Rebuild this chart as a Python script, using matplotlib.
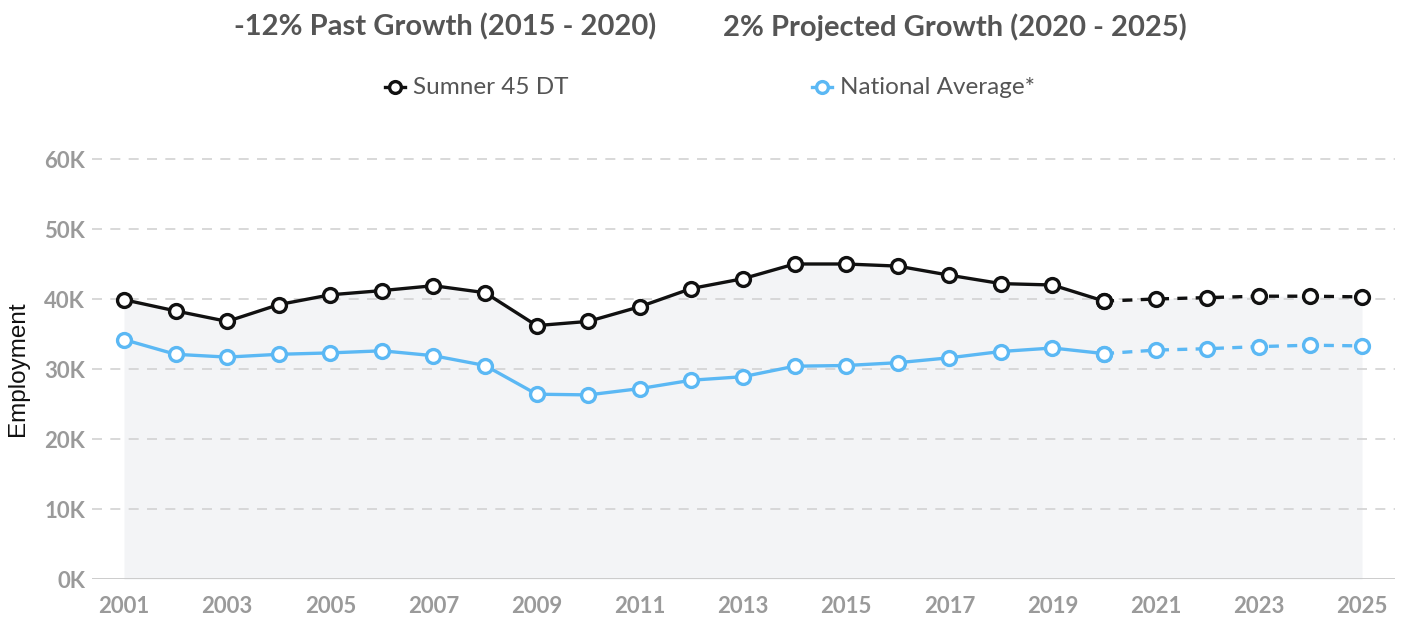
import numpy as np
import matplotlib.pyplot as plt

# Data
years_hist = [2001, 2002, 2003, 2004, 2005, 2006, 2007, 2008, 2009, 2010,
              2011, 2012, 2013, 2014, 2015, 2016, 2017, 2018, 2019, 2020]
years_proj = [2020, 2021, 2022, 2023, 2024, 2025]

sumner_hist = [39900, 38300, 36800, 39200, 40600, 41200, 41900, 40900, 36200, 36800,
               38900, 41500, 42900, 45000, 45000, 44700, 43400, 42200, 42000, 39700]
sumner_proj = [39700, 40000, 40200, 40400, 40400, 40300]

national_hist = [34200, 32100, 31700, 32100, 32300, 32600, 31900, 30500, 26400, 26300,
                 27200, 28400, 28900, 30400, 30500, 30900, 31600, 32500, 33000, 32200]
national_proj = [32200, 32700, 32900, 33200, 33400, 33300]

y_ticks = [0, 10000, 20000, 30000, 40000, 50000, 60000]
y_tick_labels = ['0K', '10K', '20K', '30K', '40K', '50K', '60K']
x_ticks = list(range(2001, 2026, 2))

black = '#111111'
blue = '#5bb8f4'
grid_col = '#d2d2d2'
tick_col = '#9a9a9a'
text_col = '#555555'

W, H = 1403, 622
fig = plt.figure(figsize=(W / 100, H / 100), dpi=100)

# axes placed in pixel terms: x from 92 to 1395, y 0K at 579, 60K at 159
left, right = 92, 1395
y0, y60 = 579, 159
ax = fig.add_axes([left / W, (H - y0) / H, (right - left) / W, (y0 - y60) / H])

px_per_year = (1362 - 124) / 24
ax.set_xlim(2001 - (124 - left) / px_per_year, 2025 + (right - 1362) / px_per_year)
ax.set_ylim(0, 60000)

for s in ax.spines.values():
    s.set_visible(False)

# gridlines
for t in y_ticks[1:]:
    ax.axhline(t, color=grid_col, lw=1.2, ls=(0, (6, 5)), zorder=1, clip_on=False)
ax.axhline(0, color='#c8c8c8', lw=1.3, zorder=1)

# grey area under the Sumner line
all_years = years_hist + years_proj[1:]
all_sumner = sumner_hist + sumner_proj[1:]
ax.fill_between(all_years, 0, all_sumner, color='#f3f4f6', zorder=0, lw=0)

mk = dict(marker='o', markersize=10, markerfacecolor='white', markeredgewidth=2.4)
ax.plot(years_hist, sumner_hist, color=black, lw=2.4, markeredgecolor=black, zorder=4, **mk)
ax.plot(years_proj, sumner_proj, color=black, lw=2.4, ls=(0, (3, 2.5)),
        markeredgecolor=black, zorder=4, **mk)
ax.plot(years_hist, national_hist, color=blue, lw=2.4, markeredgecolor=blue, zorder=3, **mk)
ax.plot(years_proj, national_proj, color=blue, lw=2.4, ls=(0, (3, 2.5)),
        markeredgecolor=blue, zorder=3, **mk)

ax.set_yticks(y_ticks)
ax.set_yticklabels(y_tick_labels)
ax.set_xticks(x_ticks)
ax.tick_params(axis='both', length=0, colors=tick_col, labelsize=16)
ax.tick_params(axis='y', pad=5)
ax.tick_params(axis='x', pad=12)
for lab in ax.get_xticklabels() + ax.get_yticklabels():
    lab.set_fontfamily('Lato')
    lab.set_fontweight('bold')

ax.set_ylabel('Employment', fontsize=17.5, family='Liberation Sans', color='#111111')
ax.yaxis.set_label_coords(-(92 - 29) / (right - left), 0.5)

# titles
fig.text(445 / W, 1 - 27 / H, '-12% Past Growth (2015 - 2020)', ha='center', va='center',
         fontsize=21, fontweight='bold', family='Lato', color=text_col)
fig.text(955 / W, 1 - 27 / H, '2% Projected Growth (2020 - 2025)', ha='center', va='center',
         fontsize=21, fontweight='bold', family='Lato', color=text_col)

# legend drawn by hand
for mx, col, label in [(395, black, 'Sumner 45 DT'), (822, blue, 'National Average*')]:
    fig.add_artist(plt.Line2D([(mx - 10) / W, (mx + 10) / W], [1 - 87 / H, 1 - 87 / H],
                              color=col, lw=2.4, transform=fig.transFigure))
    fig.add_artist(plt.Line2D([mx / W], [1 - 87 / H], marker='o', markersize=8.5,
                              markerfacecolor='white', markeredgecolor=col,
                              markeredgewidth=2.4, transform=fig.transFigure))
    fig.text((mx + 18) / W, 1 - 87 / H, label, ha='left', va='center',
             fontsize=17.5, family='Lato', color=text_col)

fig.savefig('out.png', dpi=100)
